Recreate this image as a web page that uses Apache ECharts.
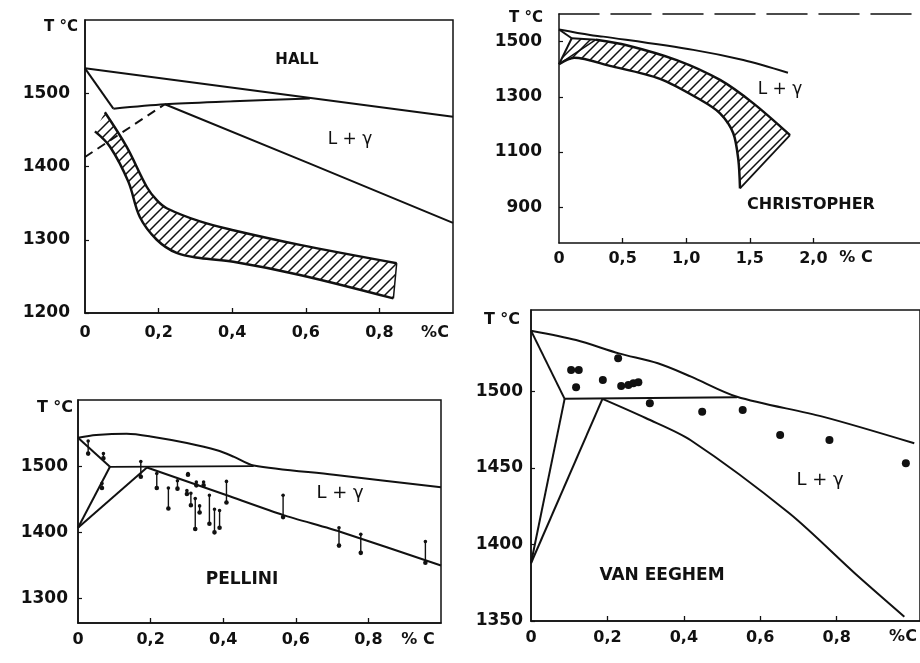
<!DOCTYPE html>
<html><head><meta charset="utf-8">
<script src="https://cdn.jsdelivr.net/npm/echarts@6/dist/echarts.min.js"></script>
<style>html,body{margin:0;padding:0;background:#fff}#c{width:920px;height:663px}</style>
</head><body><div id="c"></div>
<script>
// ---------- HALL ----------
const hallXTicks = [0, 0.2, 0.4, 0.6, 0.8];
const hallYTicks = [1200, 1300, 1400, 1500];
const hallLiquidus = [[0,1534],[1.0,1468]];
const hallDeltaSolidus = [[0,1534],[0.077,1479]];
const hallPeritectic = [[0.077,1479],[0.217,1485],[0.403,1489],[0.611,1493]];
const hallGammaSolidus = [[0.217,1485],[0.611,1404],[1.0,1323]];
const hallDashed = [[0,1413],[0.217,1485]];
const hallBandUpper = [[0.054,1474],[0.113,1427],[0.168,1372],[0.195,1354],[0.222,1343],[0.3125,1325],[0.403,1313],[0.584,1293],[0.847,1268]];
const hallBandLower = [[0.027,1448],[0.068,1427],[0.118,1379],[0.149,1331],[0.195,1300],[0.249,1282],[0.3125,1275],[0.403,1270],[0.584,1252],[0.838,1220]];

// ---------- CHRISTOPHER ----------
const chrXTicks = [0, 0.5, 1.0, 1.5, 2.0];
const chrYTicks = [900, 1100, 1300, 1500];
const chrLiquidus = [[0,1544],[0.244,1524],[0.348,1518],[1.056,1470],[1.449,1433],[1.80,1387]];
const chrDeltaSolidus = [[0,1544],[0.1,1512]];
const chrPeritectic = [[0.1,1512],[0.29,1507]];
const chrDeltaGamma = [[0.1,1512],[0,1418]];
const chrGammaLine = [[0,1418],[0.29,1507]];
const chrBandUpper = [[0.29,1507],[0.532,1487],[0.925,1433],[1.266,1361],[1.528,1276],[1.816,1161]];
const chrBandEnd = [[1.816,1161],[1.423,968]];
const chrBandLower = [[0,1418],[0.12,1441],[0.40,1412],[0.794,1365],[1.108,1290],[1.266,1240],[1.37,1168],[1.41,1071],[1.423,968]];

// ---------- PELLINI ----------
const pelXTicks = [0, 0.2, 0.4, 0.6, 0.8];
const pelYTicks = [1300, 1400, 1500];
const pelLiquidus = [[0,1543],[0.05,1547],[0.134,1549],[0.2,1545],[0.30,1535],[0.383,1524],[0.43,1514],[0.484,1501],[0.705,1487],[1.0,1468]];
const pelPeritectic = [[0.088,1499],[0.484,1500]];
const pelDeltaSolidus = [[0,1543],[0.088,1499]];
const pelDeltaGamma = [[0.088,1499],[0,1407]];
const pelGammaLine = [[0,1407],[0.19,1498]];
const pelGammaSolidus = [[0.19,1498],[0.41,1456],[0.566,1426],[0.722,1401],[1.0,1350]];
// measurement bars: [x, upper T, lower T]
const pelBars = [
  [0.028,1538,1519],[0.07,1519,1512],[0.066,1474,1467],[0.173,1507,1484],
  [0.217,1489,1467],[0.249,1467,1436],[0.274,1478,1466],[0.303,1489,1487],
  [0.30,1463,1458],[0.311,1459,1441],[0.326,1476,1471],[0.346,1476,1471],
  [0.323,1451,1405],[0.335,1440,1430],[0.362,1456,1413],[0.376,1435,1400],
  [0.39,1433,1407],[0.409,1477,1445],[0.565,1456,1423],[0.719,1407,1380],
  [0.779,1397,1369],[0.957,1386,1354]
];

// ---------- VAN EEGHEM ----------
const vanXTicks = [0, 0.2, 0.4, 0.6, 0.8];
const vanYTicks = [1350, 1400, 1450, 1500];
const vanLiquidus = [[0,1539.5],[0.118,1533.4],[0.23,1524.7],[0.332,1518.2],[0.419,1509.5],[0.539,1496.4],[0.763,1483.4],[1.003,1466]];
const vanPeritectic = [[0.088,1495],[0.539,1496]];
const vanDeltaSolidus = [[0,1539.5],[0.088,1495]];
const vanDeltaGamma = [[0.088,1495],[0,1387.7]];
const vanGammaLine = [[0,1387.7],[0.187,1495]];
const vanGammaSolidus = [[0.187,1495],[0.3,1482.5],[0.418,1468],[0.676,1420.3],[0.848,1381],[0.977,1352.8]];
const vanPoints = [
  [0.105,1513.8],[0.125,1513.8],[0.118,1502.5],[0.188,1507.3],[0.228,1521.5],
  [0.236,1503.4],[0.255,1504],[0.268,1505.2],[0.281,1505.8],[0.311,1492.1],
  [0.448,1486.6],[0.554,1487.7],[0.652,1471.4],[0.781,1468.1],[0.981,1452.9]
];

// ---------- rendering ----------
const INK = '#111';
const FONT = '"DejaVu Sans", sans-serif';

const hc = document.createElement('canvas'); hc.width = 10; hc.height = 10;
const g = hc.getContext('2d');
g.strokeStyle = INK; g.lineWidth = 1.5;
g.beginPath(); g.moveTo(-1,11); g.lineTo(11,-1); g.moveTo(-1,1); g.lineTo(1,-1); g.moveTo(9,11); g.lineTo(11,9); g.stroke();
const hatch = { image: hc, repeat: 'repeat' };

function comma(v){ return v === 0 ? '0' : v.toFixed(1).replace('.', ','); }

function xAx(grid, min, max, ticks, margin){
  return { gridIndex: grid, type:'value', min, max,
    axisLine:{show:true, onZero:false, lineStyle:{color:INK, width:1.5}},
    axisTick:{show:true, inside:true, length:5, customValues: ticks.filter(t=>t>0), lineStyle:{color:INK, width:1.3}},
    axisLabel:{customValues: ticks, formatter: comma, margin, color:INK, fontSize:16, fontWeight:'bold', fontFamily:FONT},
    splitLine:{show:false} };
}
function yAx(grid, min, max, ticks, margin){
  return { gridIndex: grid, type:'value', min, max,
    axisLine:{show:true, onZero:false, lineStyle:{color:INK, width:1.5}},
    axisTick:{show:true, inside:true, length:4, customValues: ticks, lineStyle:{color:INK, width:1.2}},
    axisLabel:{customValues: ticks, formatter: v => String(v), margin, color:INK, fontSize:17, fontWeight:'bold', fontFamily:FONT},
    splitLine:{show:false} };
}
function ln(grid, data, extra){
  return Object.assign({ type:'line', xAxisIndex:grid, yAxisIndex:grid, data, symbol:'none', showSymbol:false,
    lineStyle:{color:INK, width:2}, silent:true, z:4 }, extra || {});
}
function band(grid, upper, lower){
  const poly = upper.concat(lower.slice().reverse());
  return { type:'custom', xAxisIndex:grid, yAxisIndex:grid, data: poly, silent:true, z:2,
    renderItem: (params, api) => {
      if (params.dataIndex !== 0) return null;
      const pts = poly.map(p => api.coord(p));
      return { type:'polygon', shape:{points: pts}, style:{fill: hatch, stroke: null} };
    } };
}
function txt(x, y, s, size, weight){
  return { type:'text', x, y, z:10, style:{ text:s, fill:INK, font:(weight||'bold')+' '+size+'px '+FONT,
    align:'center', verticalAlign:'middle', textAlign:'center', textVerticalAlign:'middle' } };
}

const option = {
  animation:false,
  backgroundColor:'#fff',
  grid:[
    {left:85, top:20, width:368, height:293, show:true, borderColor:INK, borderWidth:1.5},
    {left:559, top:14, width:361, height:229, show:false},
    {left:78, top:400, width:363, height:223, show:true, borderColor:INK, borderWidth:1.5},
    {left:531, top:310, width:395, height:311, show:true, borderColor:INK, borderWidth:1.5}
  ],
  xAxis:[
    xAx(0, 0, 1.0, hallXTicks, 12),
    xAx(1, 0, 2.838, chrXTicks, 8),
    xAx(2, 0, 1.0, pelXTicks, 9),
    xAx(3, 0, 1.018, vanXTicks, 9),
    { gridIndex:1, type:'value', position:'top', min:0, max:2.838,
      axisLine:{show:true, lineStyle:{color:INK, width:1.5, type:[40,12]}}, axisTick:{show:false}, axisLabel:{show:false}, splitLine:{show:false} }
  ],
  yAxis:[
    yAx(0, 1200, 1600, hallYTicks, 15),
    yAx(1, 770, 1600, chrYTicks, 17),
    yAx(2, 1263, 1600, pelYTicks, 10),
    yAx(3, 1350, 1553, vanYTicks, 8)
  ],
  series:[
    // HALL
    band(0, hallBandUpper, hallBandLower),
    ln(0, hallLiquidus), ln(0, hallDeltaSolidus), ln(0, hallPeritectic, {smooth:0.3}),
    ln(0, hallGammaSolidus), ln(0, hallDashed, {lineStyle:{color:INK, width:2, type:[9,6]}}),
    ln(0, hallBandUpper, {smooth:0.35, lineStyle:{color:INK, width:2.5}}),
    ln(0, hallBandLower, {smooth:0.35, lineStyle:{color:INK, width:2.5}}),
    ln(0, [hallBandUpper[hallBandUpper.length-1], hallBandLower[hallBandLower.length-1]], {lineStyle:{color:INK, width:1.5}}),
    // CHRISTOPHER
    band(1, [chrDeltaGamma[0]].concat(chrBandUpper), chrBandLower),
    ln(1, chrLiquidus, {smooth:0.3}), ln(1, chrDeltaSolidus), ln(1, chrPeritectic), ln(1, chrDeltaGamma),
    ln(1, chrGammaLine, {lineStyle:{color:INK, width:1.5}}),
    ln(1, chrBandUpper, {smooth:0.3, lineStyle:{color:INK, width:2.5}}),
    ln(1, chrBandLower, {smooth:0.3, lineStyle:{color:INK, width:2.5}}),
    ln(1, chrBandEnd, {lineStyle:{color:INK, width:1.8}}),
    // PELLINI
    ln(2, pelLiquidus, {smooth:0.3}), ln(2, pelPeritectic, {lineStyle:{color:INK, width:1.6}}),
    ln(2, pelDeltaSolidus), ln(2, pelDeltaGamma), ln(2, pelGammaLine), ln(2, pelGammaSolidus, {smooth:0.2}),
    { type:'custom', xAxisIndex:2, yAxisIndex:2, data: pelBars, silent:true, z:5,
      encode:{x:0, y:[1,2]},
      renderItem:(params, api) => {
        const x = api.value(0), p1 = api.coord([x, api.value(1)]), p2 = api.coord([x, api.value(2)]);
        return { type:'group', children:[
          { type:'line', shape:{x1:p1[0], y1:p1[1], x2:p2[0], y2:p2[1]}, style:{stroke:INK, lineWidth:1.4} },
          { type:'circle', shape:{cx:p1[0], cy:p1[1], r:1.8}, style:{fill:INK} },
          { type:'circle', shape:{cx:p2[0], cy:p2[1], r:2.3}, style:{fill:INK} }
        ]};
      } },
    // VAN EEGHEM
    ln(3, vanLiquidus, {smooth:0.3}), ln(3, vanPeritectic), ln(3, vanDeltaSolidus),
    ln(3, vanDeltaGamma), ln(3, vanGammaLine), ln(3, vanGammaSolidus, {smooth:0.3}),
    { type:'scatter', xAxisIndex:3, yAxisIndex:3, data: vanPoints, symbol:'circle', symbolSize:8,
      itemStyle:{color:INK, opacity:1}, silent:true, z:5 }
  ],
  graphic:[
    txt(61, 27, 'T °C', 15), txt(435, 333, '%C', 16), txt(297, 60, 'HALL', 15), txt(350, 140, 'L + γ', 17, 'normal'),
    txt(526, 18, 'T °C', 15), txt(856, 258, '% C', 16), txt(780, 90, 'L + γ', 17, 'normal'), txt(811, 205, 'CHRISTOPHER', 16),
    txt(55, 408, 'T °C', 16), txt(418, 640, '% C', 16), txt(340, 493, 'L + γ', 18, 'normal'), txt(242, 580, 'PELLINI', 17),
    txt(502, 320, 'T °C', 16), txt(903, 637, '%C', 16), txt(820, 480, 'L + γ', 18, 'normal'), txt(662, 576, 'VAN EEGHEM', 17)
  ]
};

const chart = echarts.init(document.getElementById('c'), null, {renderer:'canvas'});
chart.setOption(option);
</script></body></html>
